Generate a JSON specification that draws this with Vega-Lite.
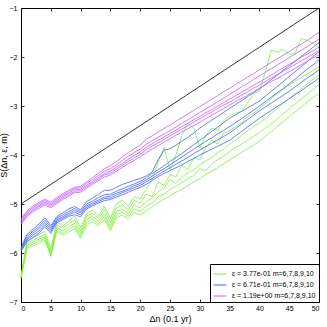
{
"$schema": "https://vega.github.io/schema/vega-lite/v6.json",
"autosize": "none",
"width": 298,
"height": 294,
"padding": {"left": 21, "top": 8, "right": 8, "bottom": 25},
"background": "white",
"config": {
  "font": "Liberation Sans",
  "view": {"stroke": "black", "strokeWidth": 1},
  "axis": {"grid": false, "domain": false, "tickColor": "black", "labelColor": "black", "titleColor": "black", "labelFontSize": 7, "titleFontSize": 9, "titleFontWeight": "normal", "tickSize": -3, "tickWidth": 0.8},
  "legend": {"strokeColor": "black", "fillColor": "white", "padding": 3, "labelFontSize": 7, "labelColor": "black", "symbolType": "stroke", "symbolSize": 160, "symbolStrokeWidth": 1, "rowPadding": 1, "labelLimit": 200, "cornerRadius": 0, "labelOffset": 5}
},
"datasets": {
"s": [
{"x":0,"g1":-6.48,"g2":-6.5,"g3":-6.5,"g4":-6.52,"g5":-6.5,"b1":-5.89,"b2":-5.91,"b3":-5.93,"b4":-5.95,"b5":-5.97,"m1":-5.30,"m2":-5.33,"m3":-5.36,"m4":-5.39,"m5":-5.42},
{"x":1,"g1":-5.75,"g2":-5.8,"g3":-5.84,"g4":-5.87,"g5":-5.9,"b1":-5.62,"b2":-5.66,"b3":-5.7,"b4":-5.73,"b5":-5.77,"m1":-5.14,"m2":-5.17,"m3":-5.2,"m4":-5.23,"m5":-5.26},
{"x":2,"g1":-5.7,"g2":-5.74,"g3":-5.78,"g4":-5.82,"g5":-5.86,"b1":-5.52,"b2":-5.56,"b3":-5.6,"b4":-5.64,"b5":-5.68,"m1":-5.04,"m2":-5.07,"m3":-5.1,"m4":-5.13,"m5":-5.16},
{"x":3,"g1":-5.62,"g2":-5.68,"g3":-5.72,"g4":-5.76,"g5":-5.8,"b1":-5.41,"b2":-5.46,"b3":-5.5,"b4":-5.55,"b5":-5.6,"m1":-4.97,"m2":-5.0,"m3":-5.03,"m4":-5.06,"m5":-5.09},
{"x":4,"g1":-5.56,"g2":-5.62,"g3":-5.67,"g4":-5.7,"g5":-5.74,"b1":-5.28,"b2":-5.33,"b3":-5.38,"b4":-5.42,"b5":-5.46,"m1":-4.9,"m2":-4.93,"m3":-4.96,"m4":-4.99,"m5":-5.02},
{"x":5,"g1":-5.93,"g2":-5.98,"g3":-6.03,"g4":-6.05,"g5":-6.07,"b1":-5.44,"b2":-5.48,"b3":-5.52,"b4":-5.56,"b5":-5.6,"m1":-4.96,"m2":-4.99,"m3":-5.02,"m4":-5.05,"m5":-5.08},
{"x":6,"g1":-5.36,"g2":-5.42,"g3":-5.48,"g4":-5.52,"g5":-5.56,"b1":-5.26,"b2":-5.29,"b3":-5.32,"b4":-5.35,"b5":-5.38,"m1":-4.87,"m2":-4.9,"m3":-4.93,"m4":-4.96,"m5":-4.99},
{"x":7,"g1":-5.45,"g2":-5.5,"g3":-5.55,"g4":-5.6,"g5":-5.64,"b1":-5.18,"b2":-5.22,"b3":-5.26,"b4":-5.29,"b5":-5.32,"m1":-4.79,"m2":-4.82,"m3":-4.85,"m4":-4.88,"m5":-4.91},
{"x":8,"g1":-5.35,"g2":-5.4,"g3":-5.46,"g4":-5.52,"g5":-5.57,"b1":-5.1,"b2":-5.15,"b3":-5.19,"b4":-5.22,"b5":-5.25,"m1":-4.72,"m2":-4.75,"m3":-4.78,"m4":-4.81,"m5":-4.84},
{"x":9,"g1":-5.25,"g2":-5.32,"g3":-5.4,"g4":-5.45,"g5":-5.5,"b1":-5.05,"b2":-5.09,"b3":-5.13,"b4":-5.17,"b5":-5.22,"m1":-4.66,"m2":-4.68,"m3":-4.71,"m4":-4.74,"m5":-4.77},
{"x":10,"g1":-5.48,"g2":-5.55,"g3":-5.6,"g4":-5.65,"g5":-5.7,"b1":-5.12,"b2":-5.15,"b3":-5.18,"b4":-5.22,"b5":-5.26,"m1":-4.64,"m2":-4.67,"m3":-4.7,"m4":-4.73,"m5":-4.76},
{"x":11,"g1":-5.2,"g2":-5.25,"g3":-5.32,"g4":-5.38,"g5":-5.44,"b1":-4.95,"b2":-5.0,"b3":-5.04,"b4":-5.07,"b5":-5.1,"m1":-4.55,"m2":-4.58,"m3":-4.62,"m4":-4.65,"m5":-4.68},
{"x":12,"g1":-5.12,"g2":-5.18,"g3":-5.25,"g4":-5.3,"g5":-5.36,"b1":-4.88,"b2":-4.94,"b3":-4.98,"b4":-5.01,"b5":-5.04,"m1":-4.46,"m2":-4.5,"m3":-4.54,"m4":-4.57,"m5":-4.6},
{"x":13,"g1":-5.25,"g2":-5.3,"g3":-5.35,"g4":-5.4,"g5":-5.45,"b1":-4.8,"b2":-4.87,"b3":-4.92,"b4":-4.95,"b5":-4.98,"m1":-4.37,"m2":-4.42,"m3":-4.46,"m4":-4.49,"m5":-4.52},
{"x":14,"g1":-5.05,"g2":-5.12,"g3":-5.2,"g4":-5.26,"g5":-5.32,"b1":-4.72,"b2":-4.81,"b3":-4.86,"b4":-4.89,"b5":-4.93,"m1":-4.28,"m2":-4.33,"m3":-4.38,"m4":-4.41,"m5":-4.45},
{"x":15,"g1":-5.3,"g2":-5.38,"g3":-5.45,"g4":-5.5,"g5":-5.55,"b1":-4.72,"b2":-4.8,"b3":-4.84,"b4":-4.88,"b5":-4.91,"m1":-4.22,"m2":-4.28,"m3":-4.33,"m4":-4.37,"m5":-4.41},
{"x":16,"g1":-5.0,"g2":-5.08,"g3":-5.15,"g4":-5.22,"g5":-5.28,"b1":-4.66,"b2":-4.74,"b3":-4.78,"b4":-4.82,"b5":-4.86,"m1":-4.13,"m2":-4.2,"m3":-4.25,"m4":-4.29,"m5":-4.33},
{"x":17,"g1":-4.92,"g2":-5.02,"g3":-5.1,"g4":-5.16,"g5":-5.22,"b1":-4.6,"b2":-4.69,"b3":-4.74,"b4":-4.77,"b5":-4.81,"m1":-4.04,"m2":-4.11,"m3":-4.17,"m4":-4.21,"m5":-4.25},
{"x":18,"g1":-5.05,"g2":-5.12,"g3":-5.2,"g4":-5.25,"g5":-5.3,"b1":-4.56,"b2":-4.64,"b3":-4.69,"b4":-4.72,"b5":-4.76,"m1":-3.95,"m2":-4.03,"m3":-4.09,"m4":-4.13,"m5":-4.18},
{"x":19,"g1":-4.85,"g2":-4.92,"g3":-5.02,"g4":-5.1,"g5":-5.18,"b1":-4.52,"b2":-4.59,"b3":-4.63,"b4":-4.67,"b5":-4.71,"m1":-3.87,"m2":-3.95,"m3":-4.01,"m4":-4.06,"m5":-4.11},
{"x":20,"g1":-4.9,"g2":-4.98,"g3":-5.08,"g4":-5.15,"g5":-5.22,"b1":-4.48,"b2":-4.54,"b3":-4.58,"b4":-4.62,"b5":-4.66,"m1":-3.8,"m2":-3.88,"m3":-3.94,"m4":-3.99,"m5":-4.04},
{"x":21,"g1":-4.7,"g2":-4.8,"g3":-4.95,"g4":-5.05,"g5":-5.14,"b1":-4.43,"b2":-4.47,"b3":-4.51,"b4":-4.55,"b5":-4.6,"m1":-3.68,"m2":-3.78,"m3":-3.84,"m4":-3.89,"m5":-3.95},
{"x":22,"g1":-4.5,"g2":-4.85,"g3":-4.88,"g4":-4.98,"g5":-5.06,"b1":-4.35,"b2":-4.38,"b3":-4.43,"b4":-4.48,"b5":-4.52,"m1":-3.61,"m2":-3.71,"m3":-3.77,"m4":-3.82,"m5":-3.88},
{"x":23,"g1":-4.15,"g2":-4.55,"g3":-4.75,"g4":-4.85,"g5":-4.98,"b1":-4.1,"b2":-4.3,"b3":-4.35,"b4":-4.4,"b5":-4.44,"m1":-3.53,"m2":-3.64,"m3":-3.7,"m4":-3.75,"m5":-3.81},
{"x":24,"g1":-3.85,"g2":-4.62,"g3":-4.68,"g4":-4.8,"g5":-4.9,"b1":-3.9,"b2":-4.22,"b3":-4.28,"b4":-4.33,"b5":-4.38,"m1":-3.46,"m2":-3.57,"m3":-3.63,"m4":-3.68,"m5":-3.74},
{"x":25,"g1":-4.3,"g2":-4.4,"g3":-4.5,"g4":-4.7,"g5":-4.84,"b1":-3.87,"b2":-4.13,"b3":-4.2,"b4":-4.26,"b5":-4.32,"m1":-3.39,"m2":-3.5,"m3":-3.56,"m4":-3.61,"m5":-3.67},
{"x":26,"g1":-4.0,"g2":-4.45,"g3":-4.58,"g4":-4.64,"g5":-4.76,"b1":-3.8,"b2":-4.05,"b3":-4.12,"b4":-4.19,"b5":-4.26,"m1":-3.31,"m2":-3.43,"m3":-3.49,"m4":-3.54,"m5":-3.6},
{"x":27,"g1":-3.6,"g2":-4.2,"g3":-4.45,"g4":-4.56,"g5":-4.7,"b1":-3.72,"b2":-3.97,"b3":-4.04,"b4":-4.12,"b5":-4.2,"m1":-3.24,"m2":-3.35,"m3":-3.42,"m4":-3.47,"m5":-3.53},
{"x":28,"g1":-3.35,"g2":-4.3,"g3":-4.36,"g4":-4.48,"g5":-4.62,"b1":-3.64,"b2":-3.88,"b3":-3.96,"b4":-4.05,"b5":-4.13,"m1":-3.16,"m2":-3.28,"m3":-3.35,"m4":-3.4,"m5":-3.46},
{"x":29,"g1":-3.45,"g2":-4.05,"g3":-4.3,"g4":-4.42,"g5":-4.55,"b1":-3.55,"b2":-3.79,"b3":-3.88,"b4":-3.97,"b5":-4.07,"m1":-3.09,"m2":-3.21,"m3":-3.28,"m4":-3.33,"m5":-3.4},
{"x":30,"g1":-3.85,"g2":-4.1,"g3":-4.2,"g4":-4.28,"g5":-4.48,"b1":-3.45,"b2":-3.7,"b3":-3.8,"b4":-3.9,"b5":-4.0,"m1":-3.01,"m2":-3.13,"m3":-3.21,"m4":-3.26,"m5":-3.33},
{"x":31,"g1":-3.6,"g2":-3.85,"g3":-4.12,"g4":-4.32,"g5":-4.4,"b1":-3.37,"b2":-3.61,"b3":-3.72,"b4":-3.83,"b5":-3.94,"m1":-2.94,"m2":-3.06,"m3":-3.14,"m4":-3.19,"m5":-3.26},
{"x":32,"g1":-3.45,"g2":-3.7,"g3":-4.05,"g4":-4.18,"g5":-4.33,"b1":-3.29,"b2":-3.52,"b3":-3.65,"b4":-3.76,"b5":-3.88,"m1":-2.86,"m2":-2.99,"m3":-3.07,"m4":-3.12,"m5":-3.19},
{"x":33,"g1":-3.5,"g2":-3.78,"g3":-3.95,"g4":-4.1,"g5":-4.26,"b1":-3.21,"b2":-3.43,"b3":-3.57,"b4":-3.69,"b5":-3.82,"m1":-2.79,"m2":-2.91,"m3":-3.0,"m4":-3.05,"m5":-3.12},
{"x":34,"g1":-3.3,"g2":-3.55,"g3":-3.88,"g4":-4.02,"g5":-4.18,"b1":-3.13,"b2":-3.34,"b3":-3.5,"b4":-3.62,"b5":-3.76,"m1":-2.71,"m2":-2.84,"m3":-2.93,"m4":-2.98,"m5":-3.05},
{"x":35,"g1":-3.2,"g2":-3.5,"g3":-3.78,"g4":-3.93,"g5":-4.1,"b1":-3.05,"b2":-3.25,"b3":-3.42,"b4":-3.55,"b5":-3.7,"m1":-2.64,"m2":-2.76,"m3":-2.86,"m4":-2.92,"m5":-2.98},
{"x":36,"g1":-3.15,"g2":-3.42,"g3":-3.7,"g4":-3.85,"g5":-4.02,"b1":-2.97,"b2":-3.18,"b3":-3.34,"b4":-3.46,"b5":-3.61,"m1":-2.56,"m2":-2.69,"m3":-2.79,"m4":-2.85,"m5":-2.91},
{"x":37,"g1":-3.1,"g2":-3.35,"g3":-3.6,"g4":-3.78,"g5":-3.95,"b1":-2.89,"b2":-3.11,"b3":-3.26,"b4":-3.37,"b5":-3.52,"m1":-2.49,"m2":-2.61,"m3":-2.72,"m4":-2.78,"m5":-2.85},
{"x":38,"g1":-2.95,"g2":-3.22,"g3":-3.5,"g4":-3.7,"g5":-3.87,"b1":-2.81,"b2":-3.04,"b3":-3.17,"b4":-3.28,"b5":-3.43,"m1":-2.41,"m2":-2.54,"m3":-2.65,"m4":-2.71,"m5":-2.78},
{"x":39,"g1":-2.75,"g2":-3.15,"g3":-3.42,"g4":-3.62,"g5":-3.8,"b1":-2.73,"b2":-2.97,"b3":-3.09,"b4":-3.19,"b5":-3.34,"m1":-2.34,"m2":-2.46,"m3":-2.58,"m4":-2.64,"m5":-2.71},
{"x":40,"g1":-2.7,"g2":-3.05,"g3":-3.35,"g4":-3.55,"g5":-3.72,"b1":-2.65,"b2":-2.9,"b3":-3.0,"b4":-3.1,"b5":-3.25,"m1":-2.26,"m2":-2.39,"m3":-2.51,"m4":-2.57,"m5":-2.64},
{"x":41,"g1":-2.3,"g2":-2.95,"g3":-3.25,"g4":-3.45,"g5":-3.62,"b1":-2.56,"b2":-2.8,"b3":-2.91,"b4":-3.02,"b5":-3.17,"m1":-2.19,"m2":-2.31,"m3":-2.44,"m4":-2.5,"m5":-2.57},
{"x":42,"g1":-1.86,"g2":-2.85,"g3":-3.15,"g4":-3.36,"g5":-3.52,"b1":-2.46,"b2":-2.7,"b3":-2.82,"b4":-2.94,"b5":-3.09,"m1":-2.11,"m2":-2.24,"m3":-2.37,"m4":-2.43,"m5":-2.5},
{"x":43,"g1":-1.9,"g2":-2.75,"g3":-3.05,"g4":-3.26,"g5":-3.42,"b1":-2.37,"b2":-2.6,"b3":-2.73,"b4":-2.86,"b5":-3.01,"m1":-2.04,"m2":-2.16,"m3":-2.29,"m4":-2.36,"m5":-2.44},
{"x":44,"g1":-1.85,"g2":-2.66,"g3":-2.95,"g4":-3.16,"g5":-3.32,"b1":-2.27,"b2":-2.5,"b3":-2.64,"b4":-2.78,"b5":-2.93,"m1":-1.96,"m2":-2.09,"m3":-2.22,"m4":-2.29,"m5":-2.37},
{"x":45,"g1":-1.95,"g2":-2.57,"g3":-2.85,"g4":-3.06,"g5":-3.22,"b1":-2.18,"b2":-2.4,"b3":-2.55,"b4":-2.7,"b5":-2.85,"m1":-1.89,"m2":-2.01,"m3":-2.15,"m4":-2.22,"m5":-2.3},
{"x":46,"g1":-1.92,"g2":-2.5,"g3":-2.75,"g4":-2.96,"g5":-3.12,"b1":-2.09,"b2":-2.3,"b3":-2.45,"b4":-2.61,"b5":-2.77,"m1":-1.81,"m2":-1.94,"m3":-2.08,"m4":-2.15,"m5":-2.23},
{"x":47,"g1":-1.62,"g2":-2.42,"g3":-2.65,"g4":-2.86,"g5":-3.02,"b1":-1.99,"b2":-2.2,"b3":-2.35,"b4":-2.52,"b5":-2.69,"m1":-1.74,"m2":-1.86,"m3":-2.01,"m4":-2.08,"m5":-2.16},
{"x":48,"g1":-1.66,"g2":-2.35,"g3":-2.55,"g4":-2.76,"g5":-2.92,"b1":-1.9,"b2":-2.1,"b3":-2.25,"b4":-2.43,"b5":-2.6,"m1":-1.66,"m2":-1.79,"m3":-1.94,"m4":-2.01,"m5":-2.09},
{"x":49,"g1":-1.72,"g2":-2.27,"g3":-2.45,"g4":-2.66,"g5":-2.82,"b1":-1.8,"b2":-1.99,"b3":-2.16,"b4":-2.35,"b5":-2.52,"m1":-1.58,"m2":-1.71,"m3":-1.87,"m4":-1.94,"m5":-2.02},
{"x":50,"g1":-1.82,"g2":-2.2,"g3":-2.37,"g4":-2.56,"g5":-2.75,"b1":-1.71,"b2":-1.89,"b3":-2.06,"b4":-2.26,"b5":-2.43,"m1":-1.5,"m2":-1.64,"m3":-1.8,"m4":-1.87,"m5":-1.95}
],
"ref": [{"x":0,"y":-5},{"x":50,"y":-1}]
},
"layer": [
{
 "data": {"name": "s"},
 "transform": [{"fold": ["g1","g2","g3","g4","g5"], "as": ["k","v"]}],
 "mark": {"type": "line", "strokeWidth": 0.8},
 "encoding": {
  "x": {"field": "x", "type": "quantitative", "scale": {"domain": [0,50], "nice": false}, "axis": {"values": [0,5,10,15,20,25,30,35,40,45,50], "title": "Δn (0.1 yr)", "labelPadding": 5, "titlePadding": 3}},
  "y": {"field": "v", "type": "quantitative", "scale": {"domain": [-7,-1], "nice": false}, "axis": {"values": [-7,-6,-5,-4,-3,-2,-1], "title": "S(Δn, ε, m)", "labelPadding": 7, "titlePadding": 1}},
  "detail": {"field": "k"},
  "color": {"datum": "ε = 3.77e-01 m=6,7,8,9,10", "type": "nominal",
    "scale": {"domain": ["ε = 3.77e-01 m=6,7,8,9,10","ε = 6.71e-01 m=6,7,8,9,10","ε = 1.19e+00 m=6,7,8,9,10"], "range": ["#7ef03c","#4262ff","#c45cff"]},
    "legend": {"title": null, "orient": "bottom-right", "offset": 0}}
 }
},
{
 "data": {"name": "s"},
 "transform": [{"fold": ["b1","b2","b3","b4","b5"], "as": ["k","v"]}],
 "mark": {"type": "line", "strokeWidth": 0.8},
 "encoding": {
  "x": {"field": "x", "type": "quantitative", "axis": null},
  "y": {"field": "v", "type": "quantitative", "axis": null},
  "detail": {"field": "k"},
  "color": {"datum": "ε = 6.71e-01 m=6,7,8,9,10", "type": "nominal"}
 }
},
{
 "data": {"name": "s"},
 "transform": [{"fold": ["m1","m2","m3","m4","m5"], "as": ["k","v"]}],
 "mark": {"type": "line", "strokeWidth": 0.8},
 "encoding": {
  "x": {"field": "x", "type": "quantitative", "axis": null},
  "y": {"field": "v", "type": "quantitative", "axis": null},
  "detail": {"field": "k"},
  "color": {"datum": "ε = 1.19e+00 m=6,7,8,9,10", "type": "nominal"}
 }
},
{
 "data": {"name": "ref"},
 "mark": {"type": "line", "color": "black", "strokeWidth": 0.8},
 "encoding": {
  "x": {"field": "x", "type": "quantitative", "axis": {"orient": "top", "labels": false, "title": null, "values": [0,5,10,15,20,25,30,35,40,45,50]}},
  "y": {"field": "y", "type": "quantitative", "axis": {"orient": "right", "labels": false, "title": null, "values": [-7,-6,-5,-4,-3,-2,-1]}}
 }
}
],
"resolve": {"axis": {"x": "independent", "y": "independent"}}
}
